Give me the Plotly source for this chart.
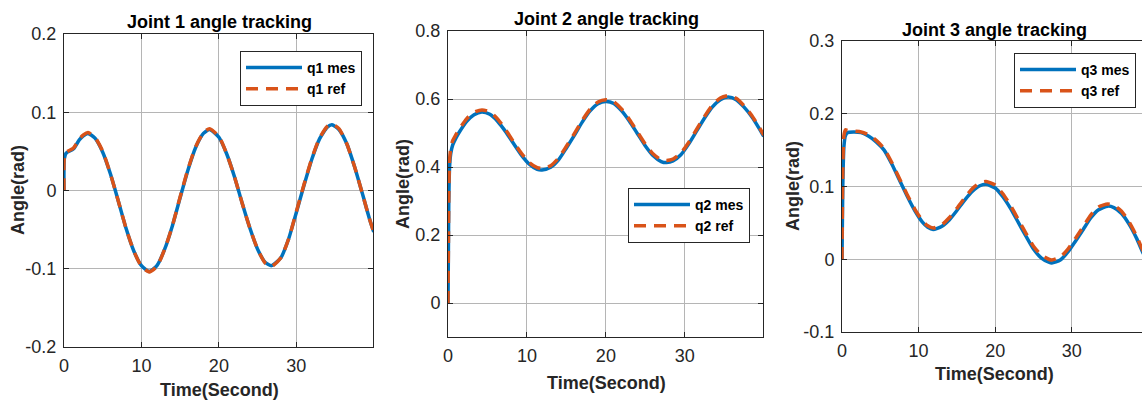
import plotly.graph_objects as go

# ---------------- data ----------------
t1 = [0, 0.05, 0.3, 1.2, 2.0, 2.5, 3.1, 4, 5, 6, 7, 8, 9, 10, 11, 12, 13, 14, 15, 16, 17, 18,
      18.8, 20, 21, 22, 23, 24, 25, 26, 26.8, 28, 29, 30, 31, 32, 33, 34, 34.6, 35.5, 36.5,
      37.5, 38.5, 39.5, 40]
q1_mes = [0, 0.041, 0.048, 0.053, 0.065, 0.070, 0.073, 0.067, 0.049, 0.021, -0.013, -0.048,
          -0.077, -0.096, -0.1035, -0.096, -0.075, -0.045, -0.009, 0.026, 0.055, 0.073,
          0.078, 0.068, 0.047, 0.018, -0.016, -0.048, -0.075, -0.092, -0.096, -0.086, -0.062,
          -0.028, 0.007, 0.040, 0.066, 0.081, 0.084, 0.078, 0.060, 0.031, -0.003, -0.038, -0.053]
q1_ref = [0, 0.043, 0.049, 0.054, 0.066, 0.071, 0.074, 0.068, 0.050, 0.021, -0.013, -0.048,
          -0.077, -0.097, -0.1040, -0.097, -0.075, -0.045, -0.008, 0.027, 0.056, 0.074,
          0.079, 0.069, 0.047, 0.018, -0.016, -0.048, -0.075, -0.093, -0.097, -0.086, -0.062,
          -0.027, 0.008, 0.041, 0.067, 0.082, 0.085, 0.079, 0.060, 0.031, -0.003, -0.038, -0.053]

t2 = [0, 0.05, 0.1, 0.2, 0.35, 0.6, 1.0, 1.5, 2.4, 3.3, 4.3, 5.3, 6.3, 7.3, 8.3, 9.3, 10.3,
      11.3, 11.9, 13, 14, 15, 16, 17, 18, 19, 20, 21, 22, 23, 24, 25, 26, 27, 27.7, 28.5,
      29.5, 30.5, 31.5, 32.5, 33.5, 34.5, 35.5, 36.5, 37.5, 38.5, 39.5, 40]
q2_mes = [0, 0.15, 0.30, 0.40, 0.44, 0.465, 0.485, 0.505, 0.535, 0.554, 0.562, 0.555, 0.534,
          0.504, 0.469, 0.435, 0.408, 0.393, 0.391, 0.399, 0.421, 0.456, 0.493, 0.532, 0.565,
          0.586, 0.593, 0.587, 0.565, 0.534, 0.498, 0.462, 0.433, 0.416, 0.413, 0.418, 0.436,
          0.468, 0.506, 0.544, 0.577, 0.598, 0.606, 0.598, 0.576, 0.547, 0.510, 0.490]
q2_ref = [0, 0.16, 0.32, 0.42, 0.455, 0.478, 0.495, 0.514, 0.543, 0.561, 0.568, 0.562, 0.541,
          0.510, 0.474, 0.440, 0.413, 0.398, 0.396, 0.404, 0.426, 0.461, 0.498, 0.537, 0.570,
          0.591, 0.598, 0.592, 0.570, 0.539, 0.503, 0.467, 0.438, 0.421, 0.419, 0.423, 0.441,
          0.473, 0.511, 0.549, 0.582, 0.603, 0.610, 0.602, 0.580, 0.551, 0.514, 0.494]

t3 = [0, 0.1, 0.25, 0.45, 0.7, 1.5, 2.5, 3.5, 4.5, 5.5, 6.5, 7.5, 8.5, 9.5, 10.5, 11.2, 11.9,
      13, 14, 15, 16, 17, 18, 18.8, 20, 21, 22, 23, 24, 25, 26, 27, 27.4, 28.5, 29.5, 30.5,
      31.5, 32.5, 33.5, 34.7, 35.5, 36.5, 37.5, 38.5, 39.2, 40]
q3_mes = [0, 0.10, 0.155, 0.170, 0.174, 0.175, 0.174, 0.169, 0.161, 0.150, 0.131, 0.109,
          0.087, 0.067, 0.051, 0.044, 0.041, 0.045, 0.054, 0.067, 0.081, 0.093, 0.101, 0.103,
          0.098, 0.086, 0.070, 0.051, 0.032, 0.014, 0.002, -0.004, -0.005, -0.001, 0.010,
          0.025, 0.041, 0.057, 0.068, 0.073, 0.071, 0.063, 0.048, 0.028, 0.011, -0.006]
q3_ref = [0, 0.12, 0.170, 0.178, 0.177, 0.176, 0.175, 0.171, 0.163, 0.152, 0.133, 0.111,
          0.089, 0.069, 0.053, 0.046, 0.043, 0.047, 0.057, 0.070, 0.084, 0.097, 0.105, 0.107,
          0.102, 0.090, 0.074, 0.055, 0.036, 0.018, 0.006, 0.000, -0.001, 0.003, 0.014,
          0.029, 0.045, 0.061, 0.072, 0.076, 0.074, 0.066, 0.051, 0.031, 0.014, -0.003]

titles = ["Joint 1 angle tracking", "Joint 2 angle tracking", "Joint 3 angle tracking"]
names = [("q1 mes", "q1 ref"), ("q2 mes", "q2 ref"), ("q3 mes", "q3 ref")]
x_ticks = [0, 10, 20, 30]
x_ticktext = ["0", "10", "20", "30"]
y_ticks = [[-0.2, -0.1, 0, 0.1, 0.2],
           [0, 0.2, 0.4, 0.6, 0.8],
           [-0.1, 0, 0.1, 0.2, 0.3]]
y_ticktext = [["-0.2", "-0.1", "0", "0.1", "0.2"],
              ["0", "0.2", "0.4", "0.6", "0.8"],
              ["-0.1", "0", "0.1", "0.2", "0.3"]]
y_ranges = [[-0.2, 0.2], [-0.1, 0.8], [-0.1, 0.3]]
x_ranges = [[0, 39.9], [0, 39.9], [0, 39.17]]

# ---------------- style ----------------
W, H = 1142, 403
BLUE = "#0072BD"
ORANGE = "#D95319"
AX = "#262626"
GRID = "#b5b5b5"
FONT = "Liberation Sans, Arial, sans-serif"

def fx(px):
    return px / W

def fy(py):
    return 1 - py / H

# plot-area boxes in pixels: left, right, top, bottom
boxes = [(64, 373, 34, 347), (448, 763, 31, 337), (842, 1142, 41, 332)]
title_pos = [(219, 22), (606, 19), (994, 30)]
xlabel_pos = [(219, 390), (606, 383), (994, 374)]
ylabel_pos = [(18, 190), (403, 184), (793, 186)]
legend_pos = [(240, 51), (628, 188), (1014, 53)]

series = [(t1, q1_mes, q1_ref), (t2, q2_mes, q2_ref), (t3, q3_mes, q3_ref)]

fig = go.Figure()
layout = {}
annotations = []
for i in range(3):
    sfx = "" if i == 0 else str(i + 1)
    lg = "legend" + sfx
    t, mes, ref = series[i]
    fig.add_trace(go.Scatter(x=t, y=mes, mode="lines", name=names[i][0],
                             line=dict(color=BLUE, width=3.5, shape="spline", smoothing=0.6),
                             xaxis="x" + sfx, yaxis="y" + sfx, legend=lg))
    fig.add_trace(go.Scatter(x=t, y=ref, mode="lines", name=names[i][1],
                             line=dict(color=ORANGE, width=3.5, dash="12px,8px",
                                       shape="spline", smoothing=0.6),
                             xaxis="x" + sfx, yaxis="y" + sfx, legend=lg))
    l, r, tp, b = boxes[i]
    common = dict(showline=True, linecolor=AX, linewidth=1, ticks="inside", ticklen=5,
                  tickcolor=AX, showgrid=True, gridcolor=GRID, gridwidth=1, zeroline=False,
                  automargin=False, tickfont=dict(family=FONT, size=18, color=AX))
    layout["xaxis" + sfx] = dict(domain=[fx(l), fx(r)], range=x_ranges[i], anchor="y" + sfx,
                                 tickvals=x_ticks, ticktext=x_ticktext, mirror="ticks",
                                 ticklabelstandoff=2, **common)
    layout["yaxis" + sfx] = dict(domain=[fy(b), fy(tp)], range=y_ranges[i], anchor="x" + sfx,
                                 tickvals=y_ticks[i], ticktext=y_ticktext[i],
                                 mirror="ticks" if i < 2 else False,
                                 ticklabelstandoff=3, **common)
    lx, ly = legend_pos[i]
    layout[lg] = dict(x=fx(lx), y=fy(ly), xanchor="left", yanchor="top", bgcolor="white",
                      bordercolor=AX, borderwidth=1, tracegroupgap=0, itemwidth=56,
                      font=dict(family=FONT, size=14, color="black", weight="bold"))
    cx, cy = title_pos[i]
    annotations.append(dict(text=titles[i], x=fx(cx), y=fy(cy), xref="paper", yref="paper",
                            showarrow=False, xanchor="center", yanchor="middle",
                            font=dict(family=FONT, size=18, color="black", weight="bold")))
    cx, cy = xlabel_pos[i]
    annotations.append(dict(text="Time(Second)", x=fx(cx), y=fy(cy), xref="paper",
                            yref="paper", showarrow=False, xanchor="center", yanchor="middle",
                            font=dict(family=FONT, size=18, color=AX, weight="bold")))
    cx, cy = ylabel_pos[i]
    annotations.append(dict(text="Angle(rad)", x=fx(cx), y=fy(cy), xref="paper",
                            yref="paper", showarrow=False, xanchor="center", yanchor="middle",
                            textangle=-90,
                            font=dict(family=FONT, size=18, color=AX, weight="bold")))

fig.update_layout(width=W, height=H,
                  margin=dict(l=0, r=0, t=0, b=0, pad=0, autoexpand=False),
                  plot_bgcolor="white", paper_bgcolor="white", showlegend=True,
                  annotations=annotations, **layout)
fig.write_html("out.html")
